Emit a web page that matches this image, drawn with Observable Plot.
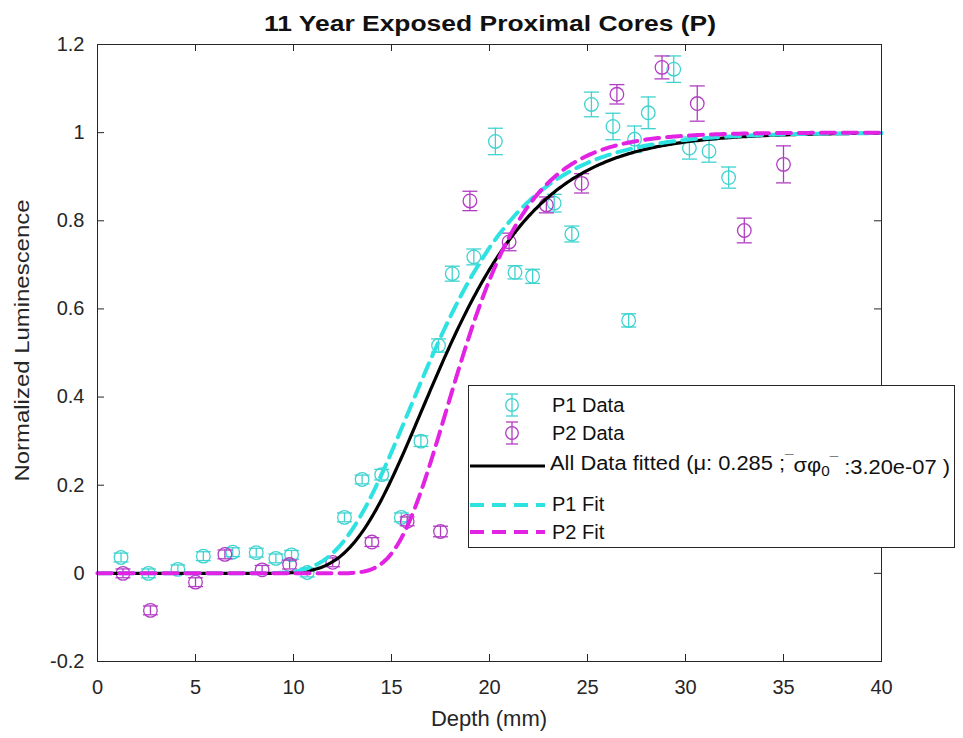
<!DOCTYPE html>
<html>
<head>
<meta charset="utf-8">
<script src="https://cdn.jsdelivr.net/npm/d3@7"></script>
<script src="https://cdn.jsdelivr.net/npm/@observablehq/plot@0.6"></script>
<style>
  html, body { margin: 0; padding: 0; background: #fff; }
  #chart svg { display: block; }
</style>
</head>
<body>
<div id="chart"></div>
<script>
// P1 core measurements: depth (mm), normalized luminescence, error
const p1Depth = [1.2, 2.6, 4.1, 5.4, 6.9, 8.1, 9.1, 9.9, 10.7, 12.6, 13.5, 14.5, 15.5, 16.5, 17.4, 18.1, 19.2, 20.3, 21.3, 22.2, 23.3, 24.2, 25.2, 26.3, 27.1, 27.4, 28.1, 29.4, 30.2, 31.2, 32.2];
const p1Lum   = [0.036, 0.000, 0.009, 0.039, 0.048, 0.047, 0.034, 0.042, 0.002, 0.127, 0.213, 0.224, 0.127, 0.300, 0.517, 0.680, 0.718, 0.980, 0.683, 0.674, 0.840, 0.770, 1.064, 1.014, 0.574, 0.985, 1.045, 1.144, 0.965, 0.958, 0.898];
const p1Err   = [0.010, 0.010, 0.010, 0.010, 0.010, 0.010, 0.010, 0.010, 0.010, 0.010, 0.010, 0.012, 0.010, 0.012, 0.015, 0.017, 0.018, 0.030, 0.015, 0.016, 0.020, 0.018, 0.028, 0.030, 0.015, 0.030, 0.036, 0.030, 0.025, 0.025, 0.024];

// P2 core measurements
const p2Depth = [1.3, 2.7, 5.0, 6.5, 8.4, 9.8, 12.0, 14.0, 15.8, 17.5, 19.0, 21.0, 22.9, 24.7, 26.5, 28.8, 30.6, 33.0, 35.0];
const p2Lum   = [0.000, -0.084, -0.020, 0.043, 0.008, 0.020, 0.025, 0.071, 0.118, 0.095, 0.845, 0.752, 0.836, 0.885, 1.087, 1.148, 1.066, 0.778, 0.928];
const p2Err   = [0.010, 0.010, 0.010, 0.010, 0.010, 0.010, 0.010, 0.010, 0.010, 0.012, 0.022, 0.020, 0.018, 0.022, 0.022, 0.026, 0.040, 0.028, 0.042];

// Fitted bleaching-front parameters: mu (1/mm) and sigma*phi0 (1/s)
const fitNames = ["All", "P1", "P2"];
const fitMu    = [0.285, 0.290, 0.406];
const fitSp    = [3.20e-07, 2.88e-07, 3.94e-06];
const exposureYears = 11;

const xTicks = [0, 5, 10, 15, 20, 25, 30, 35, 40];
const yTicks = [-0.2, 0, 0.2, 0.4, 0.6, 0.8, 1, 1.2];
const yTickLabels = ["-0.2", "0", "0.2", "0.4", "0.6", "0.8", "1", "1.2"];

const title = "11 Year Exposed Proximal Cores (P)";
const xLabel = "Depth (mm)";
const yLabel = "Normalized Luminescence";

// ---- derived tables ----
const p1 = p1Depth.map((d, i) => ({x: d, y: p1Lum[i], e: p1Err[i]}));
const p2 = p2Depth.map((d, i) => ({x: d, y: p2Lum[i], e: p2Err[i]}));

const tSec = exposureYears * 365.25 * 86400;
const depthGrid = d3.range(0, 40.0001, 0.1);
// L(x) = exp(-sigma*phi0*t*exp(-mu*x))
const fitCurve = (k) => depthGrid.map(x => ({x, y: Math.exp(-fitSp[k] * tSec * Math.exp(-fitMu[k] * x))}));
const fitAll = fitCurve(0), fitP1 = fitCurve(1), fitP2 = fitCurve(2);

const C = {
  p1: "#3fd3d0",
  p2: "#b23dc4",
  fitP1: "#2fe2e2",
  fitP2: "#e323e3",
  axis: "#262626"
};

// horizontal cap for error bars
const capSymbol = {
  draw(ctx, size) {
    const w = Math.sqrt(size / Math.PI);
    ctx.moveTo(-w, 0);
    ctx.lineTo(w, 0);
  }
};

const W = 963, H = 738;
const mL = 97, mR = 82, mT = 44, mB = 77;
const innerW = W - mL - mR, innerH = H - mT - mB;
const tick = 7;
const font = "'Liberation Sans', Arial, Helvetica, sans-serif";

function errorMarks(data, color) {
  return [
    Plot.ruleX(data, {x: "x", y1: d => d.y - d.e, y2: d => d.y + d.e, stroke: color, strokeWidth: 1.3}),
    Plot.dot(data, {x: "x", y: d => d.y - d.e, symbol: capSymbol, r: 7.5, stroke: color, strokeWidth: 1.3, fill: "none"}),
    Plot.dot(data, {x: "x", y: d => d.y + d.e, symbol: capSymbol, r: 7.5, stroke: color, strokeWidth: 1.3, fill: "none"}),
    Plot.dot(data, {x: "x", y: "y", r: 6.8, stroke: color, strokeWidth: 1.3, fill: "none"})
  ];
}

const chart = Plot.plot({
  width: W,
  height: H,
  marginLeft: mL,
  marginRight: mR,
  marginTop: mT,
  marginBottom: mB,
  style: {fontFamily: font, fontSize: "20px", background: "#fff", color: C.axis},
  x: {domain: [0, 40], label: null},
  y: {domain: [-0.2, 1.2], label: null},
  marks: [
    // inward ticks on all four sides
    Plot.tickX(xTicks, {x: d => d, insetTop: innerH - tick, stroke: C.axis, strokeWidth: 1}),
    Plot.tickX(xTicks, {x: d => d, insetBottom: innerH - tick, stroke: C.axis, strokeWidth: 1}),
    Plot.tickY(yTicks, {y: d => d, insetRight: innerW - tick, stroke: C.axis, strokeWidth: 1}),
    Plot.tickY(yTicks, {y: d => d, insetLeft: innerW - tick, stroke: C.axis, strokeWidth: 1}),
    Plot.axisX({ticks: xTicks, tickSize: 0, tickPadding: 18, fontSize: 20, tickFormat: d => String(d), fill: C.axis}),
    Plot.axisY({ticks: yTicks, tickSize: 0, tickPadding: 13, fontSize: 20, tickFormat: d => yTickLabels[yTicks.indexOf(d)], fill: C.axis}),
    ...errorMarks(p1, C.p1),
    ...errorMarks(p2, C.p2),
    Plot.line(fitAll, {x: "x", y: "y", stroke: "#000", strokeWidth: 3.2}),
    Plot.line(fitP1, {x: "x", y: "y", stroke: C.fitP1, strokeWidth: 4, strokeDasharray: "14,8"}),
    Plot.line(fitP2, {x: "x", y: "y", stroke: C.fitP2, strokeWidth: 4, strokeDasharray: "14,8"}),
    Plot.frame({stroke: C.axis, strokeWidth: 1})
  ]
});

document.getElementById("chart").appendChild(chart);

const svg = d3.select(chart);

// title and axis labels
svg.append("text")
  .attr("x", 490).attr("y", 31)
  .attr("text-anchor", "middle")
  .attr("font-family", font).attr("font-size", 22).attr("font-weight", "bold")
  .attr("textLength", 452).attr("lengthAdjust", "spacingAndGlyphs")
  .attr("fill", "#111")
  .text(title);

svg.append("text")
  .attr("x", mL + innerW / 2).attr("y", 726)
  .attr("text-anchor", "middle")
  .attr("font-family", font).attr("font-size", 22)
  .attr("fill", C.axis)
  .text(xLabel);

svg.append("text")
  .attr("transform", `translate(29,${mT + innerH / 2 - 12}) rotate(-90)`)
  .attr("text-anchor", "middle")
  .attr("font-family", font).attr("font-size", 21)
  .attr("textLength", 282).attr("lengthAdjust", "spacingAndGlyphs")
  .attr("fill", C.axis)
  .text(yLabel);

// legend box
const lg = svg.append("g")
  .attr("font-family", font).attr("font-size", 20).attr("fill", "#111")
  .attr("text-anchor", "start");
lg.append("rect")
  .attr("x", 468.5).attr("y", 385.5).attr("width", 486).attr("height", 162)
  .attr("fill", "#fff").attr("stroke", C.axis).attr("stroke-width", 1);

const iconX = 512, lineX0 = 470, lineX1 = 545, textX = 552;

function legendErrIcon(cy, color) {
  const g = lg.append("g").attr("stroke", color).attr("stroke-width", 1.3).attr("fill", "none");
  g.append("line").attr("x1", iconX).attr("x2", iconX).attr("y1", cy - 11).attr("y2", cy + 11);
  g.append("line").attr("x1", iconX - 6).attr("x2", iconX + 6).attr("y1", cy - 11).attr("y2", cy - 11);
  g.append("line").attr("x1", iconX - 6).attr("x2", iconX + 6).attr("y1", cy + 11).attr("y2", cy + 11);
  g.append("circle").attr("cx", iconX).attr("cy", cy).attr("r", 6.3);
}
function legendLine(cy, color, width, dash) {
  const l = lg.append("line").attr("x1", lineX0).attr("x2", lineX1).attr("y1", cy).attr("y2", cy)
    .attr("stroke", color).attr("stroke-width", width);
  if (dash) l.attr("stroke-dasharray", dash);
}
function legendText(cy, str) {
  return lg.append("text").attr("x", textX).attr("y", cy).attr("dy", "0.35em").text(str);
}

legendErrIcon(405, C.p1);
legendText(405, "P1 Data");
legendErrIcon(433, C.p2);
legendText(433, "P2 Data");

legendLine(466, "#000", 3.2);
const t3 = lg.append("text").attr("x", 550).attr("y", 463).attr("dy", "0.35em")
  .attr("textLength", 400).attr("lengthAdjust", "spacingAndGlyphs");
t3.append("tspan").text("All Data fitted (μ: 0.285 ;");
t3.append("tspan").attr("dy", "-0.35em").attr("font-size", 14).text("¯");
t3.append("tspan").attr("dy", "0.35em").text("σφ");
t3.append("tspan").attr("dy", "0.3em").attr("font-size", 14).text("0");
t3.append("tspan").attr("dy", "-0.65em").attr("font-size", 14).text("¯");
t3.append("tspan").attr("dy", "0.35em").text(" :3.20e-07 )");

legendLine(505, C.fitP1, 4, "14,8");
legendText(504, "P1 Fit");
legendLine(532, C.fitP2, 4, "14,8");
legendText(532, "P2 Fit");
</script>
</body>
</html>
